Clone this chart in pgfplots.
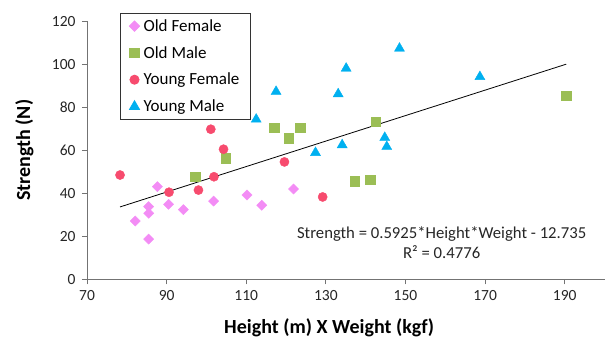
\documentclass[border=0pt]{standalone}
\usepackage{pgfplots}
\pgfplotsset{compat=1.18}
\usepackage{fontspec}
\setmainfont{Carlito}
\definecolor{ofem}{RGB}{243,140,245}
\definecolor{omal}{RGB}{155,190,85}
\definecolor{yfem}{RGB}{247,75,110}
\definecolor{ymal}{RGB}{0,176,240}
\begin{document}
\begin{tikzpicture}
\begin{axis}[
 scale only axis, width=517.5pt, height=258pt,
 xmin=70, xmax=200, ymin=0, ymax=120,
 xtick={70,90,...,190}, ytick={0,20,...,120},
 axis x line*=bottom, axis y line*=left,
 axis line style={draw=black!55, line width=0.8pt},
 tick style={draw=black!55, line width=0.8pt},
 tick align=outside, major tick length=5pt,
 tick label style={font=\fontsize{15.5}{18}\selectfont, text=black!85},
 /pgf/number format/assume math mode=true,
 xticklabel style={yshift=-3pt},
 yticklabel style={xshift=-3pt},
 xlabel={Height (m) X Weight (kgf)},
 xlabel style={font=\bfseries\fontsize{20}{24}\selectfont, at={(axis description cs:0.468,0)}, anchor=base, yshift=-54.5pt},
 ylabel={Strength (N)},
 ylabel style={font=\bfseries\fontsize{20}{24}\selectfont, at={(axis description cs:-0.1101,0.5)}, anchor=base},
 legend style={at={(axis description cs:0.0638,1.032)}, anchor=north west, draw=black!80, line width=0.8pt,
   font=\fontsize{17}{19}\selectfont, row sep=9.5pt, inner xsep=9pt, inner ysep=4pt,
   /tikz/every odd column/.append style={column sep=2pt}},
 legend cell align=left,
]
\addplot[only marks, mark=square*, mark size=3.6pt, mark options={rotate=45, fill=ofem, draw=ofem}] coordinates {
(82.1,27.1) (85.5,33.8) (85.5,30.7) (85.5,18.7) (87.7,43.1) (90.5,34.9) (94.2,32.4) (101.8,36.4) (110.2,39.2) (113.9,34.4) (121.9,42.0)};
\addlegendentry{Old Female}
\addplot[only marks, mark=square*, mark size=4.7pt, mark options={fill=omal, draw=omal}] coordinates {
(97.2,47.7) (104.9,56.3) (117.0,70.5) (120.6,65.6) (123.6,70.5) (142.5,73.2) (190.4,85.3) (137.3,45.7) (141.1,46.2)};
\addlegendentry{Old Male}
\addplot[only marks, mark=*, mark size=4.6pt, mark options={fill=yfem, draw=yfem}] coordinates {
(78.3,48.5) (90.6,40.5) (98.0,41.5) (101.9,47.7) (104.3,60.5) (119.6,54.6) (129.2,38.3) (101.1,69.8)};
\addlegendentry{Young Female}
\addplot[only marks, mark=triangle*, mark size=5.8pt, mark options={fill=ymal, draw=ymal}] coordinates {
(112.5,74.4) (117.5,87.3) (127.4,58.9) (133.1,86.2) (134.1,62.5) (135.1,98.1) (144.8,65.9) (145.3,61.7) (148.5,107.4) (168.7,94.2)};
\addlegendentry{Young Male}
\addplot[black, line width=0.8pt, forget plot] coordinates {(78.3,33.66) (190.4,100.07)};
\node[align=center, font=\fontsize{16.7}{20}\selectfont, text=black!85] at (axis cs:159.1,16.85) {Strength = 0.5925*Height*Weight - 12.735\\R² = 0.4776};
\end{axis}
\pgfresetboundingbox
\path ([shift={(-87pt,-61.7pt)}]current axis.south west) rectangle ([shift={(0.5pt,21.3pt)}]current axis.north east);
\end{tikzpicture}
\end{document}
